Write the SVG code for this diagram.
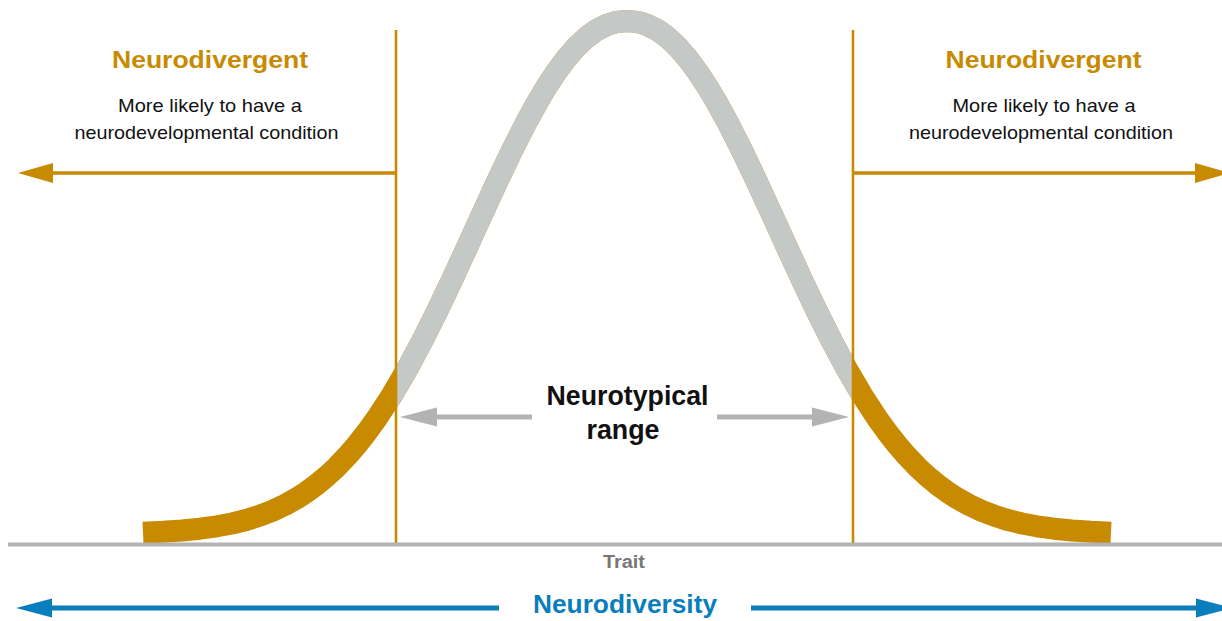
<svg xmlns="http://www.w3.org/2000/svg" width="1222" height="621" viewBox="0 0 1222 621">
<style>
.lbl{font-family:"Liberation Sans",Arial,sans-serif}
.gold{fill:#c88a00}
.title{font-size:24px;font-weight:bold}
.sub{font-size:19px;fill:#111}
.nt{font-size:27px;font-weight:bold;fill:#111}
.curve{fill:none;stroke-width:22;stroke-linejoin:round;stroke-linecap:butt}
</style>
<defs>
<clipPath id="midClip"><rect x="396" y="0" width="457" height="560"/></clipPath>
<path id="bell" d="M143,532.7 L163,531.8 L182,530.5 L200,528.7 L217,526.3 L232,523.5 L247,519.8 L260,515.6 L272,511 L285,504.9 L297,498.2 L307,491.7 L317,484.3 L327,476 L337,466.7 L347,456.2 L357,444.6 L367,431.9 L377,418 L392,394.9 L407,369.4 L422,341.4 L437,311.5 L452,280 L467,247.4 L482,214.5 L497,181.9 L512,150.6 L527,121.1 L537,102.9 L547,86.1 L557,71 L567,57.7 L577,46.3 L587,37 L597,29.8 L607,24.8 L617,21.9 L627,21 L637,21.9 L647,24.8 L657,29.8 L667,37 L677,46.3 L687,57.7 L697,71 L707,86.1 L717,102.9 L727,121.1 L742,150.6 L757,181.9 L772,214.5 L787,247.4 L802,280 L817,311.5 L832,341.4 L847,369.4 L862,394.9 L877,418 L887,431.9 L897,444.6 L907,456.2 L917,466.7 L927,476 L937,484.3 L947,491.7 L957,498.2 L969,504.9 L982,511 L994,515.6 L1007,519.8 L1022,523.5 L1037,526.3 L1054,528.7 L1072,530.5 L1091,531.8 L1111,532.7"/>
</defs>

<g id="bell-curve">
<use href="#bell" class="curve" stroke="#c88a00"/>
<use href="#bell" class="curve" stroke="#c4c9c8" clip-path="url(#midClip)"/>
</g>

<g id="connectors">
<line x1="396" y1="30" x2="396" y2="543" stroke="#c88a00" stroke-width="2.6"/>
<line x1="853" y1="30" x2="853" y2="543" stroke="#c88a00" stroke-width="2.6"/>
<line x1="8" y1="544.5" x2="1222" y2="544.5" stroke="#b3b3b3" stroke-width="4"/>
<line x1="396" y1="173" x2="50" y2="173" stroke="#c88a00" stroke-width="3.5"/>
<polygon points="18,173 53,163 53,183" fill="#c88a00"/>
<line x1="853" y1="173" x2="1198" y2="173" stroke="#c88a00" stroke-width="3.5"/>
<polygon points="1230,173 1195,163 1195,183" fill="#c88a00"/>
<line x1="532" y1="417" x2="434" y2="417" stroke="#b3b3b3" stroke-width="5"/>
<polygon points="400,417 437,407.5 437,426.5" fill="#b3b3b3"/>
<line x1="717" y1="417" x2="815" y2="417" stroke="#b3b3b3" stroke-width="5"/>
<polygon points="849,417 812,407.5 812,426.5" fill="#b3b3b3"/>
<line x1="499" y1="608" x2="48" y2="608" stroke="#0a7ebd" stroke-width="5"/>
<polygon points="16,608 52,598.5 52,617.5" fill="#0a7ebd"/>
<line x1="751" y1="608" x2="1200" y2="608" stroke="#0a7ebd" stroke-width="5"/>
<polygon points="1232,608 1196,598.5 1196,617.5" fill="#0a7ebd"/>
</g>

<g id="left-label">
<text class="lbl title gold" x="210" y="68" text-anchor="middle" textLength="196" lengthAdjust="spacingAndGlyphs">Neurodivergent</text>
<text class="lbl sub" x="210" y="112" text-anchor="middle" textLength="184" lengthAdjust="spacingAndGlyphs">More likely to have a</text>
<text class="lbl sub" x="206.5" y="138.5" text-anchor="middle" textLength="264" lengthAdjust="spacingAndGlyphs">neurodevelopmental condition</text>
</g>

<g id="right-label">
<text class="lbl title gold" x="1043.5" y="68" text-anchor="middle" textLength="196" lengthAdjust="spacingAndGlyphs">Neurodivergent</text>
<text class="lbl sub" x="1044" y="112" text-anchor="middle" textLength="183" lengthAdjust="spacingAndGlyphs">More likely to have a</text>
<text class="lbl sub" x="1041" y="138.5" text-anchor="middle" textLength="264" lengthAdjust="spacingAndGlyphs">neurodevelopmental condition</text>
</g>

<g id="neurotypical-label">
<text class="lbl nt" x="627.5" y="405" text-anchor="middle" textLength="162" lengthAdjust="spacingAndGlyphs">Neurotypical</text>
<text class="lbl nt" x="623" y="439" text-anchor="middle" textLength="73" lengthAdjust="spacingAndGlyphs">range</text>
</g>

<g id="trait-label">
<text class="lbl" x="624" y="568" text-anchor="middle" font-size="18" font-weight="bold" fill="#777777" textLength="42" lengthAdjust="spacingAndGlyphs">Trait</text>
</g>

<g id="neurodiversity-label">
<text class="lbl" x="625" y="613" text-anchor="middle" font-size="25" font-weight="bold" fill="#0a7ebd" textLength="184" lengthAdjust="spacingAndGlyphs">Neurodiversity</text>
</g>
</svg>
